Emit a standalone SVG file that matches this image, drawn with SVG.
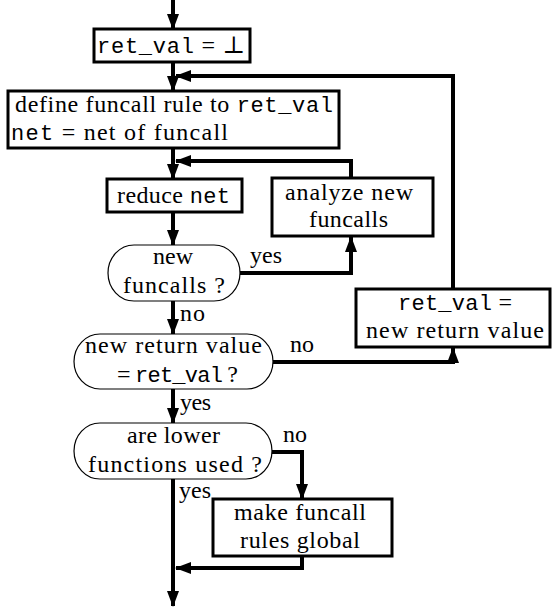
<svg xmlns="http://www.w3.org/2000/svg" width="552" height="610" viewBox="0 0 552 610" font-family="'Liberation Serif', 'Times New Roman', 'DejaVu Serif', serif">
<defs>
<marker id="ah" markerUnits="userSpaceOnUse" markerWidth="16" markerHeight="12" viewBox="0 0 16 12" refX="15" refY="6" orient="auto">
<path d="M0,0 L16,6 L0,12 Z" fill="#000"/>
</marker>
<style>
.box{fill:#fff;stroke:#000;stroke-width:3}
.dec{fill:#fff;stroke:#000;stroke-width:1.2}
.c{fill:none;stroke:#000;stroke-width:4;marker-end:url(#ah)}
text{font-family:'Liberation Serif','Times New Roman','DejaVu Serif',serif;font-size:24px;fill:#000}
.m{font-family:'Liberation Mono','DejaVu Sans Mono',monospace;font-size:22px}
</style>
</defs>
<g id="connectors">
<path class="c" d="M173,0 V29"/>
<path class="c" d="M173,62 V91"/>
<path class="c" d="M453,289 V76 H176"/>
<path class="c" d="M173,148 V179"/>
<path class="c" d="M351,178 V161 H176"/>
<path class="c" d="M173,212 V245"/>
<path class="c" d="M240,273 H351 V237"/>
<path class="c" d="M173,301 V334"/>
<path class="c" d="M273,362 H453 V348"/>
<path class="c" d="M173,389 V423"/>
<path class="c" d="M272,452 H302 V499"/>
<path class="c" d="M173,479 V606"/>
<path class="c" d="M302,556 V568 H176"/>
<text x="250" y="263" textLength="32" lengthAdjust="spacing">yes</text>
<text x="180" y="321" textLength="25" lengthAdjust="spacing">no</text>
<text x="290" y="352" textLength="24" lengthAdjust="spacing">no</text>
<text x="180" y="410" textLength="31" lengthAdjust="spacing">yes</text>
<text x="283" y="442" textLength="24" lengthAdjust="spacing">no</text>
<text x="179" y="498" textLength="32" lengthAdjust="spacing">yes</text>
</g>
<g id="n1">
<rect class="box" x="94" y="29" width="156" height="33"/>
<text x="97" y="53" textLength="148" lengthAdjust="spacing"><tspan class="m">ret_val</tspan> = ⊥</text>
</g>
<g id="n2">
<rect class="box" x="8" y="91" width="331" height="57"/>
<text x="15" y="112" textLength="318" lengthAdjust="spacing">define funcall rule to <tspan class="m">ret_val</tspan></text>
<text x="11" y="140" textLength="217" lengthAdjust="spacing"><tspan class="m">net</tspan> = net of funcall</text>
</g>
<g id="n3">
<rect class="box" x="107" y="179" width="135" height="33"/>
<text x="117" y="203" textLength="113" lengthAdjust="spacing">reduce <tspan class="m">net</tspan></text>
</g>
<g id="n4">
<rect class="box" x="272" y="178" width="161" height="58"/>
<text x="285" y="200" textLength="128" lengthAdjust="spacing">analyze new</text>
<text x="309" y="227" textLength="79" lengthAdjust="spacing">funcalls</text>
</g>
<g id="n5">
<rect class="dec" x="108" y="245" width="132" height="56" rx="26" ry="28"/>
<text x="153" y="264" textLength="40" lengthAdjust="spacing">new</text>
<text x="123" y="293" textLength="102" lengthAdjust="spacing">funcalls ?</text>
</g>
<g id="n6">
<rect class="dec" x="74" y="334" width="199" height="55" rx="26" ry="27.5"/>
<text x="85" y="353" textLength="177" lengthAdjust="spacing">new return value</text>
<text x="117" y="382" textLength="121" lengthAdjust="spacing">= <tspan class="m">ret_val</tspan> ?</text>
</g>
<g id="n7">
<rect class="box" x="356" y="289" width="194" height="58"/>
<text x="398" y="310" textLength="114" lengthAdjust="spacing"><tspan class="m">ret_val</tspan> =</text>
<text x="366" y="338" textLength="178" lengthAdjust="spacing">new return value</text>
</g>
<g id="n8">
<rect class="dec" x="74" y="423" width="198" height="56" rx="26" ry="28"/>
<text x="127" y="443" textLength="93" lengthAdjust="spacing">are lower</text>
<text x="88" y="472" textLength="174" lengthAdjust="spacing">functions used ?</text>
</g>
<g id="n9">
<rect class="box" x="213" y="499" width="179" height="57"/>
<text x="234" y="520" textLength="132" lengthAdjust="spacing">make funcall</text>
<text x="240" y="548" textLength="120" lengthAdjust="spacing">rules global</text>
</g>
</svg>
